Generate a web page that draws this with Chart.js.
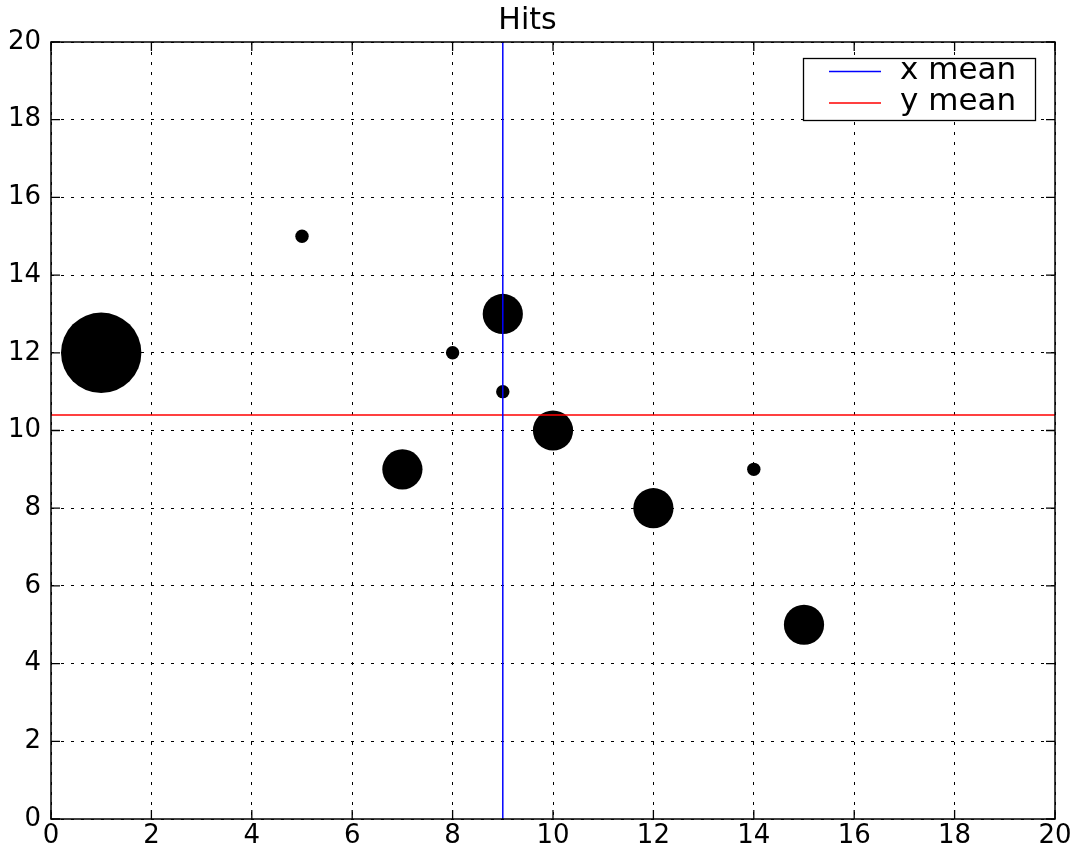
<!DOCTYPE html>
<html>
<head>
<meta charset="utf-8">
<script src="https://cdn.jsdelivr.net/npm/chart.js@4/dist/chart.umd.min.js"></script>
<style>
html,body{margin:0;padding:0;background:#fff;}
#wrap{width:1071px;height:850px;position:relative;}
</style>
</head>
<body>
<div id="wrap"><canvas id="c" width="1071" height="850"></canvas></div>
<script>
const xValues = [1, 5, 7, 8, 9, 9, 10, 12, 14, 15];
const yValues = [12, 15, 9, 12, 13, 11, 10, 8, 9, 5];
const hits    = [36, 1, 9, 1, 9, 1, 9, 9, 1, 9];
const tickValues = [0, 2, 4, 6, 8, 10, 12, 14, 16, 18, 20];
const titleText = 'Hits';
const legendLabels = ['x mean', 'y mean'];

const xMean = xValues.reduce((a, b) => a + b, 0) / xValues.length;
const yMean = yValues.reduce((a, b) => a + b, 0) / yValues.length;
const FONT = "'DejaVu Sans', sans-serif";

const bubbleData = xValues.map((x, i) => ({x: x, y: yValues[i], r: 6.7 * Math.sqrt(hits[i])}));

const framePlugin = {
  id: 'frame',
  afterDatasetsDraw(chart) {
    const {ctx, chartArea: a, scales} = chart;
    ctx.save();
    ctx.strokeStyle = '#000';
    ctx.lineWidth = 1.3;
    const tl = 9;
    ctx.beginPath();
    tickValues.forEach(v => {
      const px = scales.x.getPixelForValue(v);
      ctx.moveTo(px, a.bottom); ctx.lineTo(px, a.bottom - tl);
      ctx.moveTo(px, a.top); ctx.lineTo(px, a.top + tl);
      const py = scales.y.getPixelForValue(v);
      ctx.moveTo(a.left, py); ctx.lineTo(a.left + tl, py);
      ctx.moveTo(a.right, py); ctx.lineTo(a.right - tl, py);
    });
    ctx.stroke();
    ctx.lineWidth = 1.5;
    ctx.strokeRect(a.left, a.top, a.right - a.left, a.bottom - a.top);
    ctx.restore();
  },
  afterDraw(chart) {
    const {ctx} = chart;
    const ds = chart.data.datasets;
    ctx.save();
    const bx = 803.5, by = 58.5, bw = 232, bh = 62;
    ctx.fillStyle = '#fff';
    ctx.fillRect(bx, by, bw, bh);
    ctx.strokeStyle = '#000';
    ctx.lineWidth = 1.3;
    ctx.strokeRect(bx, by, bw, bh);
    const rows = [{y: 71.5, base: 78.5}, {y: 103, base: 110}];
    ctx.font = '31px ' + FONT;
    ctx.textBaseline = 'alphabetic';
    ctx.textAlign = 'left';
    [0, 1].forEach(i => {
      ctx.strokeStyle = ds[i].borderColor;
      ctx.lineWidth = 1.5;
      ctx.beginPath();
      ctx.moveTo(829, rows[i].y); ctx.lineTo(881, rows[i].y);
      ctx.stroke();
      ctx.fillStyle = '#000';
      ctx.fillText(legendLabels[i], 900, rows[i].base);
    });
    ctx.restore();
  }
};

new Chart(document.getElementById('c'), {
  type: 'bubble',
  data: {
    datasets: [
      {
        type: 'line',
        label: legendLabels[0],
        data: [{x: xMean, y: 0}, {x: xMean, y: 20}],
        borderColor: '#0000ff',
        borderWidth: 1.5,
        pointRadius: 0,
        fill: false,
        order: 0
      },
      {
        type: 'line',
        label: legendLabels[1],
        data: [{x: 0, y: yMean}, {x: 20, y: yMean}],
        borderColor: '#ff0000',
        borderWidth: 1.5,
        pointRadius: 0,
        fill: false,
        order: 0
      },
      {
        label: 'hits',
        data: bubbleData,
        backgroundColor: '#000',
        borderColor: '#000',
        borderWidth: 0,
        hoverRadius: 0,
        order: 1
      }
    ]
  },
  options: {
    responsive: false,
    animation: false,
    events: [],
    layout: {autoPadding: false, padding: {left: 0, right: 16, top: 0, bottom: 0}},
    plugins: {
      legend: {display: false},
      tooltip: {enabled: false},
      title: {
        display: true,
        text: titleText,
        color: '#000',
        font: {family: FONT, size: 30, weight: 'normal', lineHeight: 1.2},
        padding: {top: 3, bottom: 3}
      }
    },
    scales: {
      x: {
        type: 'linear',
        min: 0, max: 20,
        afterBuildTicks: s => { s.ticks = tickValues.map(v => ({value: v})); },
        afterFit: s => { s.height = 31; s.paddingLeft = 0; s.paddingRight = 0; s.paddingTop = 0; s.paddingBottom = 0; },
        ticks: {color: '#000', font: {family: FONT, size: 26}, padding: 2, maxRotation: 0, autoSkip: false},
        grid: {color: '#000', lineWidth: 1, drawTicks: false},
        border: {display: false, dash: [3, 7]}
      },
      y: {
        type: 'linear',
        min: 0, max: 20,
        afterBuildTicks: s => { s.ticks = tickValues.map(v => ({value: v})); },
        afterFit: s => { s.width = 51; s.paddingLeft = 0; s.paddingRight = 0; s.paddingTop = 0; s.paddingBottom = 0; },
        ticks: {color: '#000', font: {family: FONT, size: 26}, padding: 10, autoSkip: false},
        grid: {color: '#000', lineWidth: 1, drawTicks: false},
        border: {display: false, dash: [3, 7]}
      }
    }
  },
  plugins: [framePlugin]
});
</script>
</body>
</html>
